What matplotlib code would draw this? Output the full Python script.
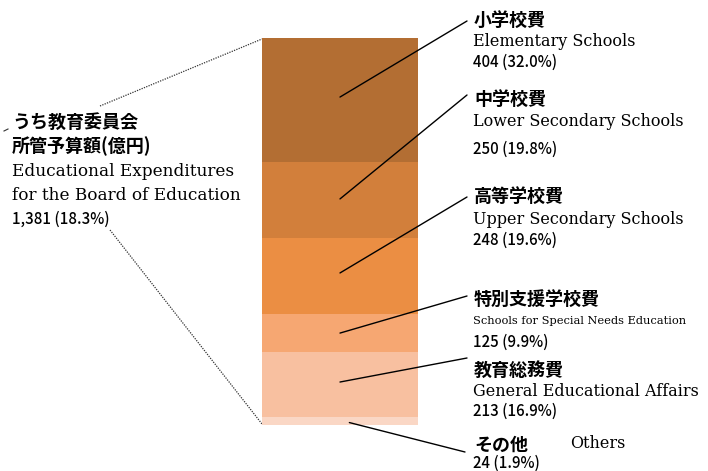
import matplotlib
matplotlib.use("Agg")
import matplotlib.pyplot as plt
import numpy as np
from matplotlib.patches import ConnectionPatch

# ---- data ----
categories_jp = ["小学校費", "中学校費", "高等学校費", "特別支援学校費", "教育総務費", "その他"]
categories_en = ["Elementary Schools", "Lower Secondary Schools", "Upper Secondary Schools",
                 "Schools for Special Needs Education", "General Educational Affairs", "Others"]
values = [404, 250, 248, 125, 213, 24]
shares = [32.0, 19.8, 19.6, 9.9, 16.9, 1.9]
total_label_jp = ["うち教育委員会", "所管予算額(億円)"]
total_label_en = ["Educational Expenditures", "for the Board of Education"]
total_value = "1,381"
total_share = 18.3

colors = ["#B36E33", "#D27F3B", "#EB8E43", "#F6A772", "#F8C0A0", "#FAD7C5"]

W, H = 708, 471
fig = plt.figure(figsize=(W / 100, H / 100), dpi=100)

# overlay axes in pixel coordinates (y down)
ov = fig.add_axes([0, 0, 1, 1])
ov.set_xlim(0, W)
ov.set_ylim(H, 0)
ov.axis("off")

# bar axes
bx0, bx1, by0, by1 = 262, 418, 38, 424.7
bar_ax = fig.add_axes([bx0 / W, 1 - by1 / H, (bx1 - bx0) / W, (by1 - by0) / H])
total = sum(values)
bottoms = np.concatenate([[0], np.cumsum(values)[:-1]])
bar_ax.bar(0, values, bottom=bottoms, width=1.0, color=colors, linewidth=0)
bar_ax.set_xlim(-0.5, 0.5)
bar_ax.set_ylim(total, 0)
bar_ax.axis("off")

JP = ["Noto Sans CJK JP", "DejaVu Sans"]
SERIF = "DejaVu Serif"

# leader lines
anchor_x = [0.0, 0.0, 0.0, 0.0, 0.0, 0.06]
anchor_off = [-9, -3, -10, 0, -9, 5]
ends = [(467, 21), (467, 95), (467, 197), (467, 296), (467, 358), (465, 452)]
for i, v in enumerate(values):
    mid = bottoms[i] + v / 2 + anchor_off[i]
    cp = ConnectionPatch(xyA=(anchor_x[i], mid), coordsA=bar_ax.transData,
                         xyB=ends[i], coordsB=ov.transData,
                         color="black", linewidth=1.0)
    fig.add_artist(cp)

# dotted lines to the left label
ov.plot([100, 262], [106, 39], color="#333333", linestyle=(0, (1, 1)), linewidth=0.9)
ov.plot([110, 262], [230, 424], color="#333333", linestyle=(0, (1, 1)), linewidth=0.9)
ov.plot([4, 8], [131, 129], color="#333333", linewidth=0.8)

# left label
ov.text(12, 122, total_label_jp[0], fontsize=13, family=JP, weight="bold", va="center", ha="left")
ov.text(12, 146, total_label_jp[1], fontsize=13, family=JP, weight="bold", va="center", ha="left")
ov.text(12, 172, total_label_en[0], fontsize=12.2, family=SERIF, va="center", ha="left")
ov.text(12, 196, total_label_en[1], fontsize=12.2, family=SERIF, va="center", ha="left")
ov.text(12, 219, f"{total_value} ({total_share:.1f}%)", fontsize=10.8, family=JP,
        weight="medium", va="center", ha="left")

# right labels
jp_y = [20, 99, 196, 299, 370, 445]
en_y = [42, 122, 219, 321, 392, 444]
num_y = [62, 149, 240, 342, 411, 463]
en_x = [473, 473, 473, 473, 473, 570]
en_size = [11.5, 11.5, 11.5, 8.2, 11.5, 11.5]
for i in range(len(values)):
    ov.text(474, jp_y[i], categories_jp[i], fontsize=13, family=JP, weight="bold",
            va="center", ha="left")
    ov.text(en_x[i], en_y[i], categories_en[i], fontsize=en_size[i], family=SERIF,
            va="center", ha="left")
    ov.text(473, num_y[i], f"{values[i]} ({shares[i]:.1f}%)", fontsize=10.8, family=JP,
            weight="medium", va="center", ha="left")

fig.savefig("out.png", dpi=100)
